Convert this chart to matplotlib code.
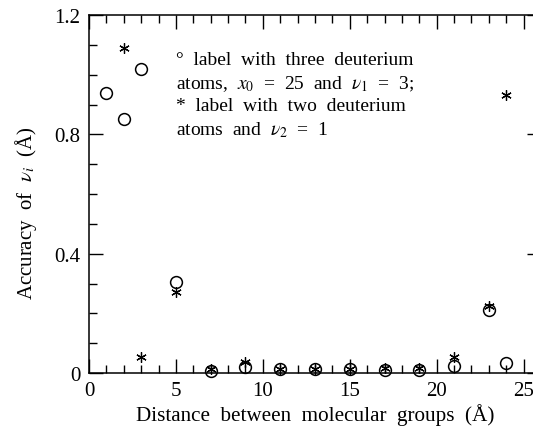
import numpy as np
import matplotlib
matplotlib.use('agg')
import matplotlib.pyplot as plt
from matplotlib.ticker import MultipleLocator

plt.rcParams['font.family'] = ['Liberation Serif', 'DejaVu Serif']
plt.rcParams['mathtext.fontset'] = 'stix'

# circles: label with three deuterium atoms
x_three = [1, 2, 3, 5, 7, 9, 11, 13, 15, 17, 19, 21, 23, 24]
y_three = [0.94, 0.85, 1.02, 0.305, 0.008, 0.02, 0.012, 0.012, 0.013, 0.01, 0.01, 0.025, 0.212, 0.034]

# asterisks: label with two deuterium atoms
x_two = [2, 3, 5, 7, 9, 11, 13, 15, 17, 19, 21, 23, 24]
y_two = [1.09, 0.053, 0.27, 0.015, 0.036, 0.012, 0.012, 0.015, 0.018, 0.018, 0.053, 0.225, 0.932]

note_lines = [
    "°  label  with  three  deuterium",
    r"atoms,  $x_0$  =  25  and  $\nu_1$  =  3;",
    "*  label  with  two  deuterium",
    r"atoms  and  $\nu_2$  =  1",
]

fig = plt.figure(figsize=(5.33, 4.31), dpi=100)
# axes runs past the right edge, the original scan is cropped there
ax = fig.add_axes([89/533, 57/431, 452/533, 358/431])

ax.plot(x_three, y_three, linestyle='none', marker='o', markersize=8.5,
        markerfacecolor='none', markeredgecolor='black', markeredgewidth=1.1, clip_on=False)
ax.plot(x_two, y_two, linestyle='none', marker=(6, 2, 0), markersize=7.5,
        color='black', markeredgewidth=0.9, clip_on=False)

ax.set_xlim(0, 26)
ax.set_ylim(0, 1.2)
ax.xaxis.set_major_locator(MultipleLocator(5))
ax.xaxis.set_minor_locator(MultipleLocator(1))
ax.yaxis.set_minor_locator(MultipleLocator(0.1))
ax.set_yticks([0, 0.4, 0.8, 1.2])
ax.set_yticklabels(['0', '0.4', '0.8', '1.2'])

ax.tick_params(which='both', direction='in', top=True, right=True, width=1.0,
               labelsize=15, colors='black')
ax.tick_params(which='major', length=10, pad=6)
ax.tick_params(which='minor', length=6)
for s in ax.spines.values():
    s.set_linewidth(1.1)

ax.set_xlabel("Distance  between  molecular  groups  (Å)", fontsize=15.2, labelpad=2)
ax.set_ylabel(r"Accuracy  of  $\nu_i$  (Å)", fontsize=15)
ax.yaxis.set_label_coords(-0.11, 0.45)

# note block, placed in pixel coords measured from the top of the figure
for i, line in enumerate(note_lines):
    ax.text(176, 431 - (61 + i * 23), line, transform=None, fontsize=14,
            ha='left', va='center')

fig.savefig("out.png", dpi=100)
